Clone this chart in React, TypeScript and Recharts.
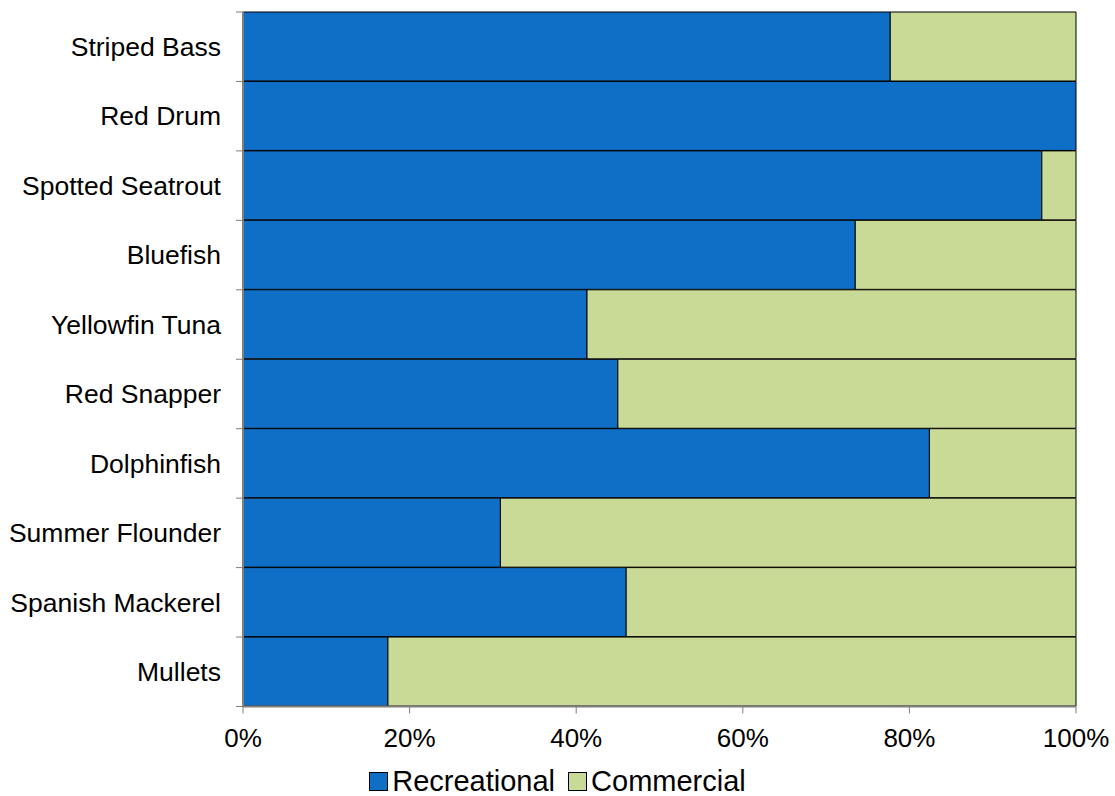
import React from "react";
import { Bar, BarChart, Legend, XAxis, YAxis } from "recharts";

const species = [
  "Striped Bass",
  "Red Drum",
  "Spotted Seatrout",
  "Bluefish",
  "Yellowfin Tuna",
  "Red Snapper",
  "Dolphinfish",
  "Summer Flounder",
  "Spanish Mackerel",
  "Mullets",
];

// recreational share of landings, percent
const recreational = [77.7, 100, 95.9, 73.5, 41.3, 45.0, 82.4, 30.9, 46.0, 17.4];
const commercial = recreational.map((r) => 100 - r);

const xTicks = [0, 20, 40, 60, 80, 100];

const BLUE = "#0f6fc6";
const GREEN = "#c9da96";
const AXIS = "#7f7f7f";
const FONT = "'Liberation Sans', Arial, sans-serif";

const W = 1115;
const H = 796;
const X_AXIS_H = 30;
const LEGEND_H = 34;
const MARGIN = { top: 12, right: 39, bottom: 25.5, left: 0 };
const PLOT_H = H - MARGIN.top - MARGIN.bottom - X_AXIS_H - LEGEND_H;
const BAND = PLOT_H / species.length;

const data = species.map((name, i) => ({
  name,
  Recreational: recreational[i],
  Commercial: commercial[i],
}));

function SpeciesTick(props: any) {
  const { x, y, payload, index } = props;
  const axisX = x + 22;
  return (
    <g>
      <line x1={axisX - 7} x2={axisX} y1={y - BAND / 2} y2={y - BAND / 2} stroke={AXIS} strokeWidth={1} />
      {index === species.length - 1 && (
        <line x1={axisX - 7} x2={axisX} y1={y + BAND / 2} y2={y + BAND / 2} stroke={AXIS} strokeWidth={1} />
      )}
      <text x={x} y={y} dy="0.35em" textAnchor="end" fill="#000" fontSize={26.5} fontFamily={FONT}>
        {payload.value}
      </text>
    </g>
  );
}

function LegendBox() {
  const items = [
    { label: "Recreational", color: BLUE },
    { label: "Commercial", color: GREEN },
  ];
  return (
    <div
      style={{
        display: "flex",
        justifyContent: "center",
        alignItems: "center",
        gap: 13,
        height: LEGEND_H,
        lineHeight: "30px",
        fontFamily: FONT,
        fontSize: 29,
      }}
    >
      {items.map((it) => (
        <div key={it.label} style={{ display: "flex", alignItems: "center" }}>
          <span
            style={{
              display: "inline-block",
              width: 17,
              height: 17,
              background: it.color,
              border: "1px solid #000",
              marginRight: 4,
            }}
          />
          <span>{it.label}</span>
        </div>
      ))}
    </div>
  );
}

export default function App() {
  return (
    <div style={{ position: "absolute", left: 0, top: 0, width: W, height: H, background: "#fff", overflow: "hidden" }}>
      <BarChart width={W} height={H} data={data} layout="vertical" margin={MARGIN} barCategoryGap={0}>
        <XAxis
          type="number"
          domain={[0, 100]}
          ticks={xTicks}
          tickFormatter={(v) => `${v}%`}
          height={X_AXIS_H}
          axisLine={{ stroke: AXIS, strokeWidth: 2 }}
          tickLine={{ stroke: AXIS }}
          tickSize={7}
          tickMargin={15}
          tick={{ fill: "#000", fontSize: 26, fontFamily: FONT }}
          interval={0}
        />
        <YAxis
          type="category"
          dataKey="name"
          width={243}
          axisLine={{ stroke: AXIS, strokeWidth: 2 }}
          tickLine={false}
          tickSize={0}
          tickMargin={22}
          tick={<SpeciesTick />}
          interval={0}
        />
        <Legend
          verticalAlign="bottom"
          height={LEGEND_H}
          wrapperStyle={{ top: 764, bottom: "auto", left: 0, width: W }}
          content={() => <LegendBox />}
        />
        <Bar dataKey="Recreational" stackId="a" fill={BLUE} stroke="#000" strokeWidth={1} isAnimationActive={false} />
        <Bar dataKey="Commercial" stackId="a" fill={GREEN} stroke="#000" strokeWidth={1} isAnimationActive={false} />
      </BarChart>
    </div>
  );
}
